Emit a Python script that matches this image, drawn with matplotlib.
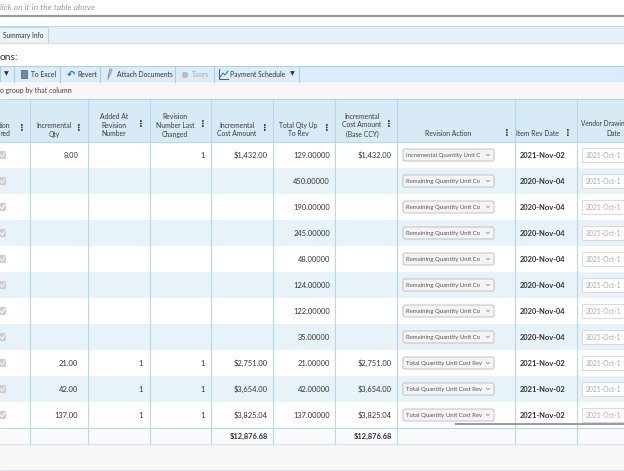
import matplotlib
matplotlib.use("Agg")
import matplotlib.pyplot as plt
from matplotlib.patches import Rectangle, FancyBboxPatch

plt.rcParams['font.family'] = ['Lato', 'DejaVu Sans']

# ---- table data ----
header_labels = ["tion\nred", "Incremental\nQty", "Added At\nRevision\nNumber",
                 "Revision\nNumber Last\nChanged", "Incremental\nCost Amount",
                 "Total Qty Up\nTo Rev", "Incremental\nCost Amount\n(Base CCY)",
                 "Revision Action", "Item Rev Date"]
toolbar_labels = ["To Excel", "Revert", "Attach Documents", "Taxes", "Payment Schedule"]

incremental_qty = [8.00, None, None, None, None, None, None, None, 21.00, 42.00, 137.00]
added_at_revision = [None, None, None, None, None, None, None, None, 1, 1, 1]
revision_last_changed = [1, None, None, None, None, None, None, None, 1, 1, 1]
incremental_cost = [1432.00, None, None, None, None, None, None, None, 2751.00, 3654.00, 3825.04]
total_qty_up_to_rev = [129, 450, 190, 245, 48, 124, 122, 35, 21, 42, 137]
incremental_cost_base = [1432.00, None, None, None, None, None, None, None, 2751.00, 3654.00, 3825.04]
revision_action = ["Incremental Quantity Unit C",
                   "Remaining Quantity Unit Co", "Remaining Quantity Unit Co",
                   "Remaining Quantity Unit Co", "Remaining Quantity Unit Co",
                   "Remaining Quantity Unit Co", "Remaining Quantity Unit Co",
                   "Remaining Quantity Unit Co",
                   "Total Quantity Unit Cost Rev", "Total Quantity Unit Cost Rev",
                   "Total Quantity Unit Cost Rev"]
item_rev_date = ["2021-Nov-02", "2020-Nov-04", "2020-Nov-04", "2020-Nov-04", "2020-Nov-04",
                 "2020-Nov-04", "2020-Nov-04", "2020-Nov-04", "2021-Nov-02", "2021-Nov-02",
                 "2021-Nov-02"]
vendor_drawing_date = ["2021-Oct-1", "2021-Oct-1", "2021-Oct-1", "2021-Oct-1", "2021-Oct-1",
                       "2021-Oct-1", "2021-Oct-1", "2021-Oct-1", "2021-Oct-1", "2021-Oct-1",
                       "2021-Oct-1"]
cost_total = 12876.68
cost_base_total = 12876.68

# ---- layout (pixels) ----
W, H = 624, 471
col_edges = [0, 30, 88, 150, 211, 273, 335, 397, 515, 577, 624]
head_top, head_bot = 99, 142
row_h = 26
n_rows = len(total_qty_up_to_rev)
tot_top = head_bot + n_rows * row_h
tot_bot = tot_top + 16

line_blue = '#b6d8ea'
txt = '#333333'

fig = plt.figure(figsize=(W / 100, H / 100), dpi=100)
ax = fig.add_axes([0, 0, 1, 1])
ax.set_xlim(0, W)
ax.set_ylim(H, 0)
ax.axis('off')


def hline(y, x0=0, x1=W, color=line_blue, lw=0.8):
    ax.plot([x0, x1], [y, y], color=color, lw=lw, solid_capstyle='butt')


def fmt_money(v):
    return "" if v is None else "${:,.2f}".format(v)


def fmt_num(v, nd):
    if v is None:
        return ""
    return "{:.{}f}".format(v, nd) if nd else str(v)


# top hint + separator
ax.text(0, 7, "lick on it in the table above", style='italic', color='#9a9a9a',
        fontsize=6.1, va='center')
hline(15.5, color='#9b9b9b', lw=1.6)

# tab strip
ax.add_patch(Rectangle((0, 26), W, 17, fc='#e6f1f8', ec='none'))
hline(26, color='#bcdcec')
hline(43, color='#dcdcdc')
ax.add_patch(Rectangle((-1, 27), 49, 16, fc='#eaf4fa', ec='#b8d8ea', lw=0.8))
ax.text(3, 35.5, "Summary Info", fontsize=4.8, color=txt, va='center')

ax.text(0, 58, "ons:", fontsize=7.4, color=txt, va='center')

# toolbar
ax.add_patch(Rectangle((0, 66), W, 16, fc='#daedf8', ec='#a8d0e6', lw=0.8))
for sx in [14, 60, 100, 175, 214, 299]:
    ax.plot([sx, sx], [66, 82], color='#a8d0e6', lw=0.8)
ax.text(6, 74, "\u25bc", fontsize=4.5, color='#333', ha='center', va='center',
        family='DejaVu Sans')
tb_x = [31, 77, 117, 192, 230]
for lab, x in zip(toolbar_labels, tb_x):
    ax.text(x, 74.3, lab, fontsize=4.9, color='#aaaaaa' if lab == "Taxes" else txt,
            va='center')
# toolbar icons (rough shapes)
ax.add_patch(Rectangle((21, 70), 6, 8, fc='#6d8fa6', ec='#445f72', lw=0.5))
ax.text(71, 74, "\u21b6", fontsize=7, color='#2f6f9f', ha='center', va='center',
        family='DejaVu Sans', fontweight='bold')
ax.plot([108, 112, 110, 108], [79, 70, 69, 77], color='#999999', lw=0.8)
ax.add_patch(FancyBboxPatch((182, 72), 6, 6, boxstyle='round,pad=0,rounding_size=2',
                            fc='#bdbdbd', ec='none'))
ax.plot([219, 219, 228], [69, 79, 79], color='#555', lw=0.7)
ax.plot([220, 223, 225, 228], [77, 73, 75, 71], color='#2f6f9f', lw=0.7)
ax.text(292, 74, "\u25bc", fontsize=4.5, color='#333', ha='center', va='center',
        family='DejaVu Sans')

# group-by bar
ax.add_patch(Rectangle((0, 82), W, 17, fc='#f7f7f7', ec='none'))
ax.text(0, 90.5, "o group by that column", fontsize=5.0, color='#444', va='center')

# header
ax.add_patch(Rectangle((0, head_top), W, head_bot - head_top, fc='#d7eaf5', ec='none'))
hline(head_top)
head_x = [5, 54, 114, 175, 237, 298, 362, 448, 537]
kebab_x = [22, 79, 141, 203, 265, 327, 389, 507, 568]
for lab, hx, kx in zip(header_labels, head_x, kebab_x):
    n_lines = lab.count("\n") + 1
    ax.text(hx, 137.5, lab, fontsize=4.9, color='#3a3a3a', ha='center', va='bottom',
            linespacing=1.3)
    ky = {1: 133, 2: 128, 3: 124}[n_lines]
    ax.text(kx, ky, "\u22ee", fontsize=7, color='#444', ha='center', va='center',
            family='DejaVu Sans', fontweight='bold')
ax.text(581, 124, "Vendor Drawin", fontsize=4.7, color='#3a3a3a', va='center')
ax.text(614, 133, "Date", fontsize=4.9, color='#3a3a3a', ha='center', va='center')

# body rows
for i in range(n_rows):
    y0 = head_bot + i * row_h
    cy = y0 + row_h / 2
    ax.add_patch(Rectangle((0, y0), W, row_h, fc='white' if i % 2 == 0 else '#e7f2f9',
                           ec='none'))
    # checkbox, partly cut by the left edge
    ax.add_patch(FancyBboxPatch((-3, cy - 4), 9, 8, boxstyle='round,pad=0,rounding_size=1.5',
                                fc='#cccccc', ec='none'))
    ax.plot([0.5, 2.2, 5], [cy, cy + 2, cy - 2.5], color='white', lw=0.7)

    cells = [(78, fmt_num(incremental_qty[i], 2)),
             (143, fmt_num(added_at_revision[i], 0)),
             (205, fmt_num(revision_last_changed[i], 0)),
             (268, fmt_money(incremental_cost[i])),
             (330, "{:.5f}".format(total_qty_up_to_rev[i])),
             (392, fmt_money(incremental_cost_base[i]))]
    for x, s in cells:
        ax.text(x, cy, s, fontsize=5.4, color=txt, ha='right', va='center')

    # revision action drop-down
    ax.add_patch(FancyBboxPatch((403, cy - 6), 91, 12, boxstyle='round,pad=0,rounding_size=2',
                                fc='#f4f4f4', ec='#b8b8b8', lw=0.6))
    ax.text(406, cy, revision_action[i], fontsize=4.35, color='#555', va='center')
    ax.plot([486.5, 488, 489.5], [cy - 0.8, cy + 0.7, cy - 0.8], color='#888', lw=0.5)

    ax.text(520, cy, item_rev_date[i], fontsize=5.4, color=txt, fontweight='bold',
            va='center')

    # vendor drawing date input
    ax.add_patch(Rectangle((582, cy - 7), 50, 14, fc='white', ec='#d4d4d4', lw=0.6))
    ax.text(586, cy, vendor_drawing_date[i], fontsize=4.9, color='#aaaaaa', va='center')

hline(head_bot)

# totals row and footer area
ax.add_patch(Rectangle((0, tot_top), W, tot_bot - tot_top, fc='#f9fafb', ec='none'))
hline(tot_top)
ax.text(268, (tot_top + tot_bot) / 2, fmt_money(cost_total), fontsize=5.4, color=txt,
        fontweight='bold', ha='right', va='center')
ax.text(392, (tot_top + tot_bot) / 2, fmt_money(cost_base_total), fontsize=5.4, color=txt,
        fontweight='bold', ha='right', va='center')
ax.add_patch(Rectangle((0, tot_bot), W, 470 - tot_bot, fc='#f7f7f7', ec='none'))
hline(tot_bot, color='#cfe3ef')
hline(470, color='#d5e7f2')

# column lines
for x in col_edges[1:-1]:
    ax.plot([x, x], [head_top, tot_bot], color=line_blue, lw=0.8)

# horizontal scrollbar stub
hline(424, x0=455, x1=W, color='#9c9c9c', lw=1.5)

fig.savefig("out.png", dpi=100)
